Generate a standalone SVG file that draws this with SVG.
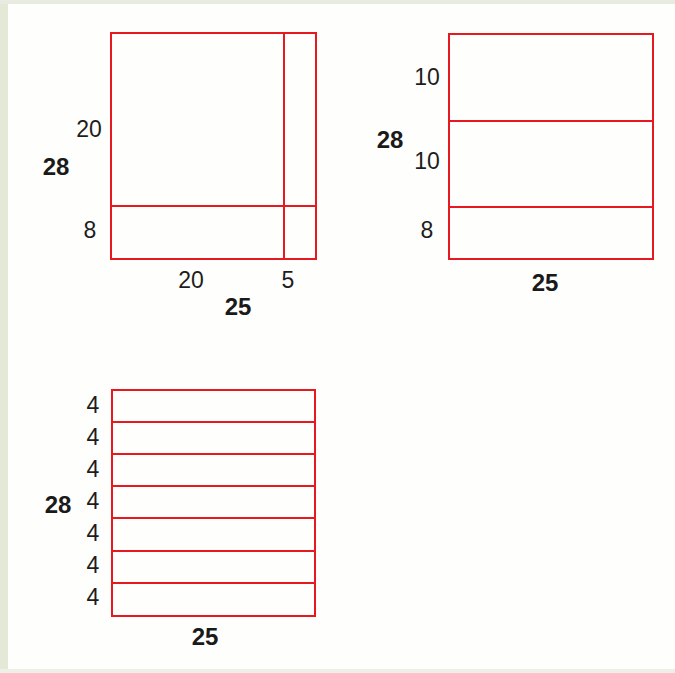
<svg xmlns="http://www.w3.org/2000/svg" width="675" height="673" viewBox="0 0 675 673">
<style>
.box{fill:none;stroke:#e81820;stroke-width:2}
.ln{stroke:#e81820;stroke-width:2}
.t{font-family:"Liberation Sans",Arial,sans-serif;font-size:23px;fill:#1d1d1d;text-anchor:middle}
.b{font-family:"Liberation Sans",Arial,sans-serif;font-size:24px;font-weight:bold;fill:#1a1a1a;text-anchor:middle}
</style>
<rect width="675" height="673" fill="#fefefc"/>
<rect x="0" y="0" width="8" height="673" fill="#e3e9d6"/>
<rect x="0" y="0" width="675" height="4" fill="#e8ebe0"/>
<rect x="0" y="669" width="675" height="4" fill="#eef0e8"/>
<g id="diagram1">
<rect class="box" x="111" y="33" width="205" height="226"/>
<line class="ln" x1="284" y1="33" x2="284" y2="259"/>
<line class="ln" x1="111" y1="206" x2="316" y2="206"/>
<text class="t" x="89" y="137">20</text>
<text class="b" x="56" y="175">28</text>
<text class="t" x="90" y="238">8</text>
<text class="t" x="191" y="288">20</text>
<text class="t" x="288" y="288">5</text>
<text class="b" x="238" y="315">25</text>
</g>
<g id="diagram2">
<rect class="box" x="449" y="34" width="204" height="225"/>
<line class="ln" x1="449" y1="121" x2="653" y2="121"/>
<line class="ln" x1="449" y1="207" x2="653" y2="207"/>
<text class="t" x="427" y="85">10</text>
<text class="b" x="390" y="148">28</text>
<text class="t" x="427" y="169">10</text>
<text class="t" x="427" y="238">8</text>
<text class="b" x="545" y="291">25</text>
</g>
<g id="diagram3">
<rect class="box" x="112" y="390" width="203" height="226"/>
<line class="ln" x1="112" y1="422" x2="315" y2="422"/>
<line class="ln" x1="112" y1="454" x2="315" y2="454"/>
<line class="ln" x1="112" y1="486" x2="315" y2="486"/>
<line class="ln" x1="112" y1="518" x2="315" y2="518"/>
<line class="ln" x1="112" y1="551" x2="315" y2="551"/>
<line class="ln" x1="112" y1="583" x2="315" y2="583"/>
<text class="t" x="93" y="413">4</text>
<text class="t" x="93" y="445">4</text>
<text class="t" x="93" y="477">4</text>
<text class="t" x="93" y="509">4</text>
<text class="t" x="93" y="541">4</text>
<text class="t" x="93" y="573">4</text>
<text class="t" x="93" y="605">4</text>
<text class="b" x="58" y="513">28</text>
<text class="b" x="205" y="645">25</text>
</g>
</svg>
